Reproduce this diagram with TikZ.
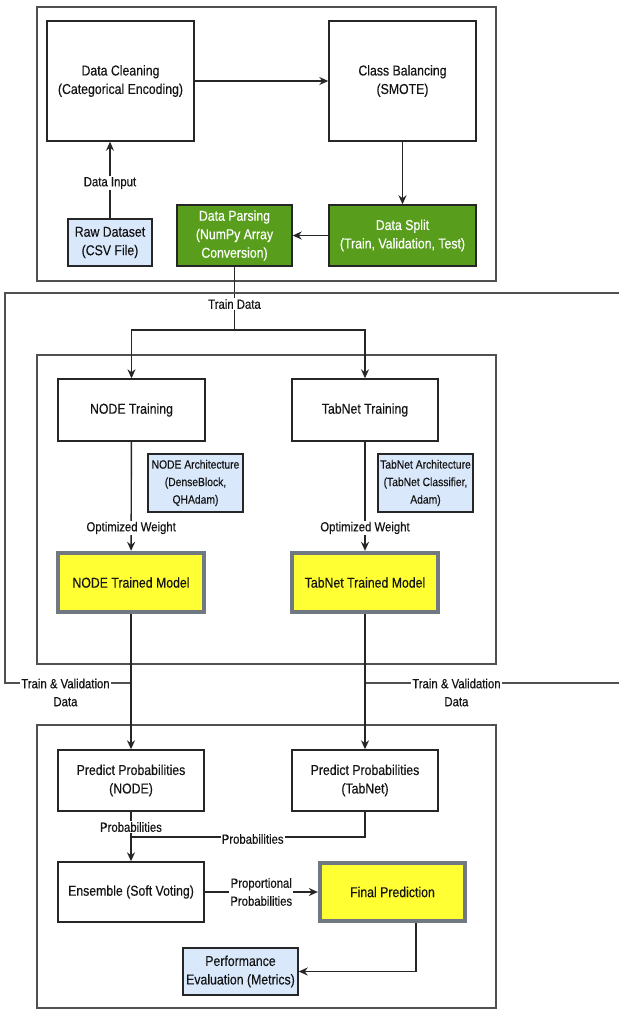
\documentclass[tikz,border=0pt]{standalone}
\usepackage{fontspec}
\setmainfont{Liberation Sans}[FakeStretch=0.86,FakeBold=0.35]
\usetikzlibrary{arrows.meta}
\definecolor{txt}{RGB}{20,20,20}
\definecolor{lblue}{RGB}{218,232,252}
\definecolor{dgreen}{RGB}{88,158,28}
\definecolor{yfill}{RGB}{255,255,51}
\definecolor{ybord}{RGB}{112,120,130}
\definecolor{framec}{RGB}{80,80,80}
\tikzset{
  box/.style={draw=black!85, line width=1.4pt, fill=white, align=center, inner sep=1pt,
    text=txt, font=\fontsize{14.3}{18.5}\selectfont},
  bluebox/.style={box, fill=lblue},
  smallblue/.style={bluebox, font=\fontsize{12}{17.5}\selectfont},
  greenbox/.style={box, fill=dgreen, text=white},
  yelbox/.style={box, fill=yfill, draw=ybord, line width=3.8pt},
  frame/.style={draw=framec, line width=1.2pt},
  conn/.style={draw=black!85, line width=1.4pt},
  arr/.style={conn, -{Stealth[length=9pt,width=8pt]}},
  lab/.style={fill=white, inner sep=1pt, text=txt, align=center, font=\fontsize{13.2}{18}\selectfont}
}
\begin{document}
\begin{tikzpicture}[x=1pt,y=-1pt]
\useasboundingbox[fill=white] (0,0) rectangle (619,1010);

% frames
\draw[frame] (37,7) rectangle (496,281);
\draw[frame] (37,355) rectangle (496,664);
\draw[frame] (37,725) rectangle (496,1008);

% top section
\node[box, minimum width=147pt, minimum height=120pt] (dc) at (120.5,81) {Data Cleaning\\(Categorical Encoding)};
\node[box, minimum width=147pt, minimum height=120pt] (cb) at (402.5,81) {Class Balancing\\(SMOTE)};
\node[bluebox, minimum width=84pt, minimum height=47pt] (raw) at (110,242.5) {Raw Dataset\\(CSV File)};
\node[greenbox, minimum width=115pt, minimum height=61pt] (dp) at (234.5,235.5) {Data Parsing\\(NumPy Array\\Conversion)};
\node[greenbox, minimum width=147pt, minimum height=61pt] (ds) at (402.5,235.5) {Data Split\\(Train, Validation, Test)};

\draw[arr] (dc) -- (cb);
\draw[arr] (raw.north) -- node[lab,pos=0.46]{Data Input} (raw.north |- dc.south);
\draw[arr] (cb) -- (ds);
\draw[arr] (ds) -- (dp);

% middle section
\node[box, minimum width=147pt, minimum height=62pt] (nt) at (131.5,410) {NODE Training};
\node[box, minimum width=146pt, minimum height=62pt] (tt) at (365,410) {TabNet Training};
\node[smallblue, minimum width=95pt, minimum height=58pt] (na) at (195.5,483) {NODE Architecture\\(DenseBlock,\\QHAdam)};
\node[smallblue, minimum width=95pt, minimum height=58pt] (ta) at (425.5,483) {TabNet Architecture\\(TabNet Classifier,\\Adam)};
\node[yelbox, minimum width=145.5pt, minimum height=59.5pt] (ntm) at (131,582.5) {NODE Trained Model};
\node[yelbox, minimum width=145.5pt, minimum height=59.5pt] (ttm) at (365,582.5) {TabNet Trained Model};

\coordinate (split) at (234.5,330);
\draw[conn] (dp.south) -- node[lab,pos=0.59]{Train Data} (split);
\draw[arr] (split) -| (nt.north);
\draw[arr] (split) -| (tt.north);
\draw[arr] (nt) -- node[lab,pos=0.79]{Optimized Weight} (ntm);
\draw[arr] (tt) -- node[lab,pos=0.79]{Optimized Weight} (ttm);

% outer open frame with train & validation data
\coordinate (tr) at (619,293);
\coordinate (tl) at (5,293);
\coordinate (lb) at (5,683);
\coordinate (lj) at (131,683);
\coordinate (rj) at (365,683);
\coordinate (re) at (619,683);
\draw[frame] (tr) -- (tl) -- (lb) -- node[lab,pos=0.48,yshift=-9.5pt]{Train \& Validation\\Data} (lj);
\draw[frame] (rj) -- node[lab,pos=0.36,yshift=-9.5pt]{Train \& Validation\\Data} (re);

% bottom section
\node[box, minimum width=146pt, minimum height=61pt] (pn) at (131,780.5) {Predict Probabilities\\(NODE)};
\node[box, minimum width=146pt, minimum height=61pt] (pt) at (365,780.5) {Predict Probabilities\\(TabNet)};
\node[box, minimum width=146pt, minimum height=60pt] (en) at (131,892) {Ensemble (Soft Voting)};
\node[yelbox, minimum width=145.5pt, minimum height=58.5pt] (fp) at (392.5,892) {Final Prediction};
\node[bluebox, minimum width=115pt, minimum height=47pt] (pe) at (240.5,971.5) {Performance\\Evaluation (Metrics)};

\draw[arr] (ntm) -- (pn);
\draw[arr] (ttm) -- (pt);
\coordinate (pj) at (131,837);
\draw[arr] (pn) -- node[lab,pos=0.31]{Probabilities} (en);
\draw[conn] (pt.south) |- node[lab,pos=0.74,yshift=-2pt]{Probabilities} (pj);
\draw[arr] (en) -- node[lab]{Proportional\\Probabilities} (fp);
\draw[arr] ([xshift=23.5pt]fp.south) |- (pe.east);
\end{tikzpicture}
\end{document}
